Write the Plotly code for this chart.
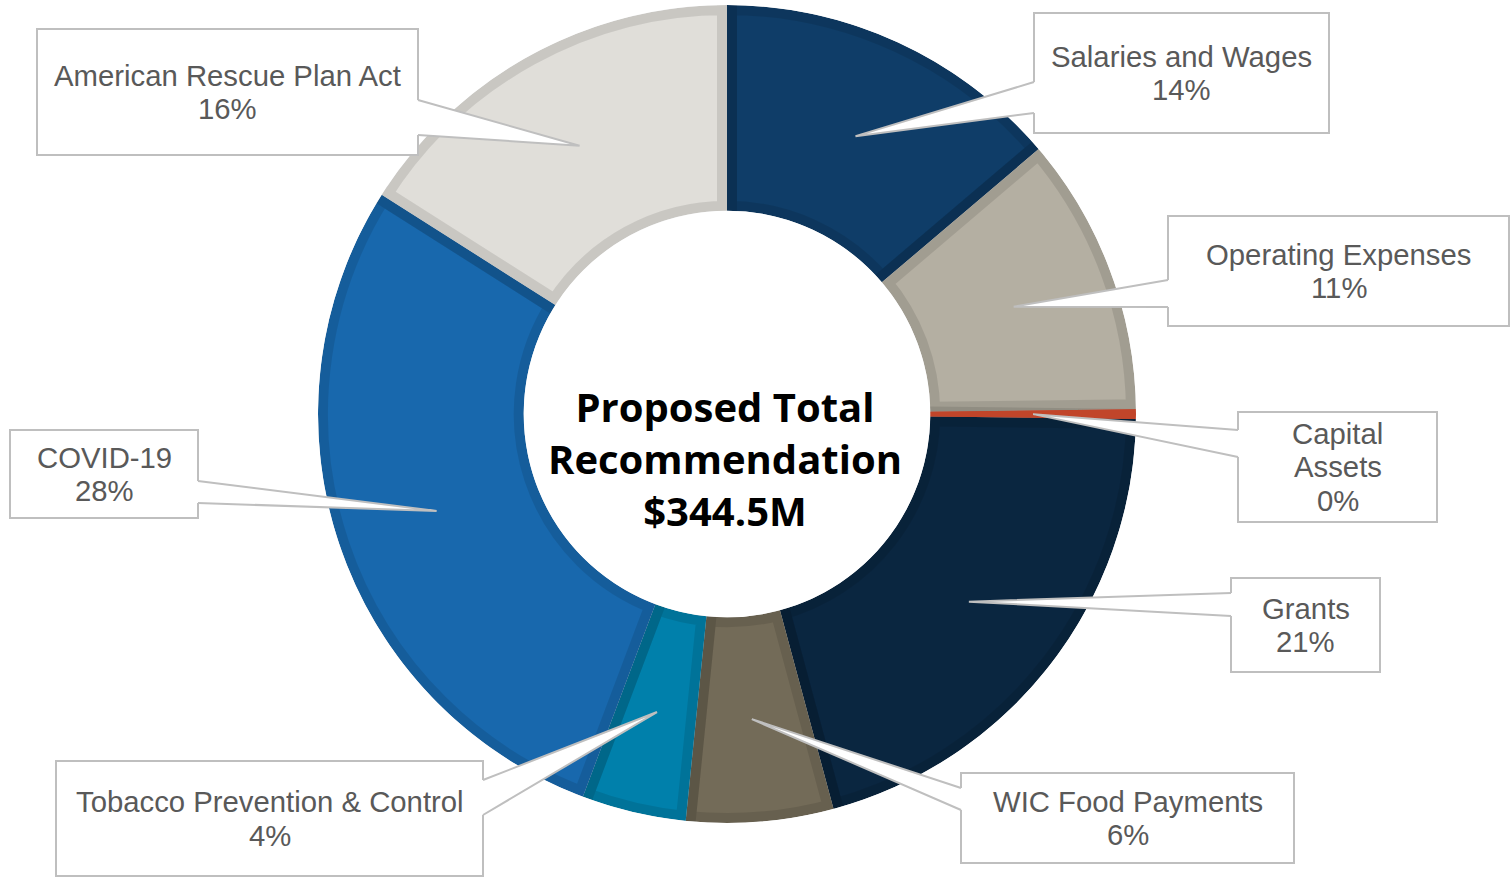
import math
import plotly.graph_objects as go

# ---------------- data ----------------
categories = ["Salaries and Wages", "Operating Expenses", "Capital Assets", "Grants",
              "WIC Food Payments", "Tobacco Prevention & Control", "COVID-19",
              "American Rescue Plan Act"]
values_musd = [47.5, 38.0, 1.3, 71.0, 20.0, 14.2, 97.4, 55.1]
label_lines = [["Salaries and Wages"], ["Operating Expenses"], ["Capital", "Assets"], ["Grants"],
               ["WIC Food Payments"], ["Tobacco Prevention & Control"], ["COVID-19"],
               ["American Rescue Plan Act"]]
center_title = ["Proposed Total", "Recommendation"]

# ---------------- style ----------------
fill_colors = ["#0F3D68", "#B4AFA2", "#C1452A", "#0A2640", "#736B58", "#0080AB", "#1868AD", "#E0DED9"]
W, H = 1511, 880
CX, CY = 727, 414
R_OUT = 409
HOLE = 0.497
R_IN = R_OUT * HOLE
EDGE = 20
LABEL_FONT = dict(family="Liberation Sans, Arial, sans-serif", size=29.3, color="#595959")
CENTER_FONT = dict(family="Open Sans, sans-serif", size=40, color="#000000")
BOX_LINE = "#BFBFBF"
LINE_STEP = 33.5

# callout boxes (pixel layout): x0, y0, x1, y1, side of pointer, pointer base range
boxes = [
    dict(x0=1034, y0=13, x1=1329, y1=133, side="left", b0=82, b1=113),
    dict(x0=1168, y0=216, x1=1509, y1=326, side="left", b0=280, b1=307),
    dict(x0=1238, y0=412, x1=1437, y1=522, side="left", b0=430, b1=457),
    dict(x0=1231, y0=578, x1=1380, y1=672, side="left", b0=593, b1=616),
    dict(x0=961, y0=773, x1=1294, y1=863, side="left", b0=788, b1=810),
    dict(x0=56, y0=761, x1=483, y1=876, side="right", b0=780, b1=815),
    dict(x0=10, y0=430, x1=198, y1=518, side="right", b0=481, b1=503),
    dict(x0=37, y0=29, x1=418, y1=155, side="right", b0=100, b1=135),
]


def px(x):
    return x / W


def py(y):
    return 1 - y / H


total = sum(values_musd)
shares = [v / total for v in values_musd]
thin = [s < 0.01 for s in shares]

domain = dict(x=[px(CX - R_OUT), px(CX + R_OUT)], y=[py(CY + R_OUT), py(CY - R_OUT)])

edge_colors = ["rgba(0,0,0,0)" if t else "rgba(0,0,0,0.10)" for t in thin]

fig = go.Figure()
fig.add_trace(go.Pie(
    labels=categories, values=values_musd, sort=False, direction="clockwise", rotation=0,
    hole=HOLE, domain=domain, textinfo="none", showlegend=False,
    marker=dict(colors=fill_colors, line=dict(color=edge_colors, width=EDGE)),
    hovertemplate="%{label}<br>$%{value}M (%{percent})<extra></extra>",
))
# thin slices redrawn on top so their colour stays clean
fig.add_trace(go.Pie(
    labels=categories, values=values_musd, sort=False, direction="clockwise", rotation=0,
    hole=HOLE, domain=domain, textinfo="none", showlegend=False, hoverinfo="skip",
    marker=dict(colors=[c if t else "rgba(0,0,0,0)" for c, t in zip(fill_colors, thin)],
                line=dict(width=0)),
))

shapes = []
# masks for the outer half of the slice edge strokes
shapes.append(dict(type="circle", xref="paper", yref="paper", layer="above",
                   x0=px(CX - R_IN), x1=px(CX + R_IN), y0=py(CY + R_IN), y1=py(CY - R_IN),
                   fillcolor="white", line=dict(width=0)))
rr = R_OUT + 12
shapes.append(dict(type="circle", xref="paper", yref="paper", layer="above",
                   x0=px(CX - rr), x1=px(CX + rr), y0=py(CY + rr), y1=py(CY - rr),
                   fillcolor="rgba(0,0,0,0)", line=dict(color="white", width=24)))

annotations = []
r_mid = (R_OUT + R_IN) / 2
cum = 0.0
for i, v in enumerate(values_musd):
    ang = math.radians((cum + v / 2) / total * 360)
    cum += v
    tx = CX + r_mid * math.sin(ang)
    ty = CY - r_mid * math.cos(ang)
    b = boxes[i]
    shapes.append(dict(type="rect", xref="paper", yref="paper", layer="above",
                       x0=px(b["x0"]), x1=px(b["x1"]), y0=py(b["y1"]), y1=py(b["y0"]),
                       fillcolor="white", line=dict(color=BOX_LINE, width=2)))
    if b["side"] == "left":
        ex, inner = b["x0"], b["x0"] + 2.5
    else:
        ex, inner = b["x1"], b["x1"] - 2.5
    fill_path = (f"M {px(inner)} {py(b['b0'])} L {px(ex)} {py(b['b0'])} L {px(tx)} {py(ty)} "
                 f"L {px(ex)} {py(b['b1'])} L {px(inner)} {py(b['b1'])} Z")
    shapes.append(dict(type="path", xref="paper", yref="paper", layer="above", path=fill_path,
                       fillcolor="white", line=dict(width=0)))
    line_path = f"M {px(ex)} {py(b['b0'])} L {px(tx)} {py(ty)} L {px(ex)} {py(b['b1'])}"
    shapes.append(dict(type="path", xref="paper", yref="paper", layer="above", path=line_path,
                       fillcolor="rgba(0,0,0,0)", line=dict(color=BOX_LINE, width=2)))

    lines = label_lines[i] + [f"{round(100 * v / total)}%"]
    bx = (b["x0"] + b["x1"]) / 2
    by = (b["y0"] + b["y1"]) / 2
    n = len(lines)
    for k, t in enumerate(lines):
        ly = by + (k - (n - 1) / 2) * LINE_STEP
        annotations.append(dict(x=px(bx), y=py(ly), xref="paper", yref="paper", text=t,
                                showarrow=False, xanchor="center", yanchor="middle",
                                font=LABEL_FONT))

center_lines = center_title + [f"${total:.1f}M"]
annotations.append(dict(x=px(725), y=py(458), xref="paper", yref="paper",
                        text="<br>".join(f"<b>{t}</b>" for t in center_lines),
                        showarrow=False, xanchor="center", yanchor="middle", align="center",
                        font=CENTER_FONT))

fig.update_layout(
    width=W, height=H, margin=dict(l=0, r=0, t=0, b=0),
    paper_bgcolor="white", plot_bgcolor="white",
    shapes=shapes, annotations=annotations, showlegend=False,
)

fig.write_html("out.html", config={"displayModeBar": False},
               post_script="document.body.style.margin='0';")
